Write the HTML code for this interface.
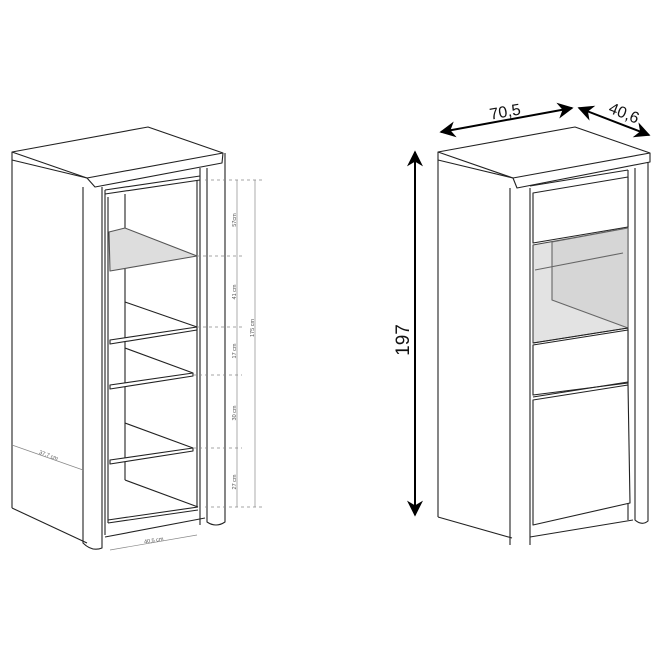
<!DOCTYPE html>
<html><head><meta charset="utf-8"><style>
html,body{margin:0;padding:0;background:#fff;}
svg{display:block;}
text{font-family:"Liberation Sans","DejaVu Sans",sans-serif;}
</style></head><body>
<svg width="665" height="665" viewBox="0 0 665 665" xmlns="http://www.w3.org/2000/svg">
<defs>
<marker id="ah" viewBox="0 0 10 10" refX="9" refY="5" markerWidth="8" markerHeight="8" orient="auto-start-reverse"><path d="M0,0 L10,5 L0,10 L3,5 Z" fill="#000"/></marker>
</defs>
<g fill="none" stroke="#222" stroke-width="1.1" stroke-linejoin="round">
<!-- LEFT CABINET -->
<polygon points="12,152 148,127 223,153 222,163 95,187 87,178 12,160" fill="#fff"/>
<line x1="12" y1="152" x2="87" y2="178"/>
<line x1="87" y1="178" x2="223" y2="153"/>
<line x1="12" y1="160" x2="12" y2="508"/>
<line x1="12" y1="508" x2="87" y2="543"/>
<path d="M83,187 L83,543 Q92,552 102,548 L102,187"/>
<path d="M207,168 L207,522 Q216,528 225,522 L225,153"/>
<line x1="200" y1="168" x2="200" y2="525"/>
<line x1="105" y1="190" x2="105" y2="535"/>
<line x1="105" y1="190" x2="200" y2="176"/>
<line x1="105" y1="194" x2="200" y2="180"/>
<line x1="108" y1="197" x2="108" y2="523"/>
<line x1="197" y1="180" x2="197" y2="507"/>
<line x1="125" y1="194" x2="125" y2="480"/>
<line x1="105" y1="537" x2="205" y2="518"/>
<polygon points="109,232 125,228 197,256 110,271" fill="#ddd" stroke="#555"/>
<line x1="125" y1="302" x2="197" y2="327"/>
<polygon points="110,340 197,327 197,330 110,344" fill="#fff"/>
<line x1="125" y1="348" x2="193" y2="373"/>
<polygon points="110,385 193,373 193,376 110,389" fill="#fff"/>
<line x1="125" y1="423" x2="193" y2="448"/>
<polygon points="110,460 193,448 193,451 110,464" fill="#fff"/>
<line x1="125" y1="480" x2="198" y2="507"/>
<line x1="108" y1="520" x2="198" y2="507"/>
<line x1="108" y1="523" x2="198" y2="510"/>
</g>
<!-- left dims -->
<g stroke="#888" stroke-width="0.7" fill="none">
<line x1="237" y1="180" x2="237" y2="507"/>
<line x1="255" y1="180" x2="255" y2="507"/>
<g stroke-dasharray="3,3">
<line x1="205" y1="180" x2="262" y2="180"/>
<line x1="197" y1="256" x2="242" y2="256"/>
<line x1="197" y1="327" x2="242" y2="327"/>
<line x1="193" y1="375" x2="242" y2="375"/>
<line x1="193" y1="448" x2="242" y2="448"/>
<line x1="205" y1="507" x2="262" y2="507"/>
</g>
<line x1="12" y1="445" x2="83" y2="470"/>
<line x1="110" y1="550" x2="197" y2="535"/>
</g>
<g font-size="5.5" fill="#555">
<text transform="translate(236,220) rotate(-90)" text-anchor="middle">57cm</text>
<text transform="translate(236,292) rotate(-90)" text-anchor="middle">41 cm</text>
<text transform="translate(236,351) rotate(-90)" text-anchor="middle">17 cm</text>
<text transform="translate(236,413) rotate(-90)" text-anchor="middle">30 cm</text>
<text transform="translate(236,482) rotate(-90)" text-anchor="middle">27 cm</text>
<text transform="translate(254,328) rotate(-90)" text-anchor="middle">175 cm</text>
<text transform="translate(48,457) rotate(20)" text-anchor="middle">37,7 cm</text>
<text transform="translate(154,542) rotate(-9)" text-anchor="middle">40,5 cm</text>
</g>
<!-- RIGHT CABINET -->
<g fill="none" stroke="#222" stroke-width="1.1" stroke-linejoin="round">
<polygon points="438,152 575,127 650,153 650,162 517,188 513,178 438,160" fill="#fff"/>
<line x1="438" y1="152" x2="513" y2="178"/>
<line x1="513" y1="178" x2="650" y2="153"/>
<line x1="438" y1="160" x2="438" y2="517"/>
<line x1="438" y1="517" x2="512" y2="538"/>
<path d="M510,188 L510,545 M530,188 L530,545"/>
<path d="M635,168 L635,520 Q642,526 648,521 L648,162"/>
<line x1="628" y1="170" x2="628" y2="520"/>
<line x1="530" y1="186" x2="628" y2="170"/>
<polygon points="533,193 628,177 628,227 533,243" fill="#fff"/>
<polygon points="533,245 628,228 628,328 533,343" fill="#e3e3e3" stroke="#444"/>
<polygon points="552,242 628,228 628,328 552,300" fill="#d6d6d6" stroke="#666"/>
<line x1="535" y1="270" x2="623" y2="253" stroke="#666"/>
<line x1="533" y1="343" x2="628" y2="328"/>
<polygon points="533,345 628,330 628,383 533,395" fill="#fff"/>
<line x1="533" y1="397" x2="628" y2="382"/>
<polygon points="533,400 628,385 630,503 533,525" fill="#fff"/>
<line x1="530" y1="537" x2="633" y2="520"/>
</g>
<!-- right dims -->
<g stroke="#000" stroke-width="2" fill="none">
<line x1="441" y1="132" x2="572" y2="108" marker-start="url(#ah)" marker-end="url(#ah)"/>
<line x1="579" y1="108" x2="649" y2="135" marker-start="url(#ah)" marker-end="url(#ah)"/>
<line x1="415" y1="152" x2="415" y2="515" marker-start="url(#ah)" marker-end="url(#ah)"/>
</g>
<g font-size="16" fill="#111">
<text transform="translate(506,117) rotate(-10)" text-anchor="middle">70,5</text>
<text transform="translate(622,118) rotate(22)" text-anchor="middle">40,6</text>
<text transform="translate(409,340) rotate(-90)" text-anchor="middle" font-size="19">197</text>
</g>
</svg>
</body></html>
